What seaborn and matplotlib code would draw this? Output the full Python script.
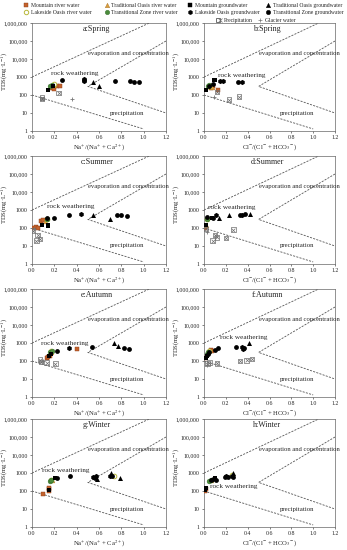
import numpy as np
import pandas as pd
import matplotlib
matplotlib.use("Agg")
import matplotlib.pyplot as plt
from matplotlib.lines import Line2D
from matplotlib.legend_handler import HandlerTuple
import seaborn as sns

# ---------------- data: panel -> list of (x, TDS) ----------------
panels = ["a", "b", "c", "d", "e", "f", "g", "h"]
titles = ["a:Spring", "b:Spring", "c:Summer", "d:Summer",
          "e:Autumn", "f:Autumn", "g:Winter", "h:Winter"]
x_labels = ["Na$^{+}$/(Na$^{+}$ + Ca$^{2+}$)",
            "Cl$^{-}$/(Cl$^{-}$ + HCO$_{3}$$^{-}$)"]
y_ticks = [1, 10, 100, 1000, 10000, 100000, 1000000]
y_tick_labels = ["1", "10", "100", "1000", "10,000", "100,000", "1,000,000"]
x_ticks = [0.0, 0.2, 0.4, 0.6, 0.8, 1.0, 1.2]

mountain_river = {
    "a": [(0.17, 250), (0.20, 220), (0.22, 300), (0.25, 330)],
    "b": [(0.06, 250), (0.08, 300), (0.13, 200)],
    "c": [(0.02, 100), (0.04, 110), (0.05, 100), (0.08, 250), (0.10, 280)],
    "d": [(0.01, 100), (0.01, 130)],
    "e": [(0.13, 150), (0.14, 170), (0.16, 200), (0.40, 450)],
    "f": [(0.01, 150), (0.06, 400), (0.07, 350)],
    "g": [(0.10, 65), (0.15, 100), (0.15, 130), (0.15, 150)],
    "h": [(0.01, 100), (0.02, 130)],
}
traditional_river = {
    "a": [(0.20, 350)], "b": [(0.07, 280)], "c": [(0.12, 260)], "d": [(0.02, 150)],
    "e": [(0.17, 330)], "f": [(0.05, 420)], "g": [(0.18, 420)], "h": [(0.06, 420)],
}
lakeside_river = {
    "a": [(0.20, 400)], "b": [(0.05, 330)], "c": [(0.13, 320)], "d": [(0.03, 330)],
    "e": [(0.17, 350)], "f": [(0.05, 380)], "g": [(0.17, 400), (0.73, 700)],
    "h": [(0.26, 800)],
}
transitional_river = {
    "a": [(0.16, 300), (0.18, 350)], "b": [(0.04, 300), (0.05, 350)],
    "c": [(0.13, 300)], "d": [(0.03, 300)],
    "e": [(0.16, 300), (0.18, 350)], "f": [(0.03, 250), (0.04, 300)],
    "g": [(0.16, 350), (0.17, 420)], "h": [(0.05, 350), (0.06, 400)],
}
mountain_gw = {
    "a": [(0.14, 200), (0.19, 300)], "b": [(0.02, 200), (0.09, 700), (0.10, 700)],
    "c": [(0.09, 150), (0.14, 150), (0.14, 130)], "d": [(0.02, 150), (0.07, 350)],
    "e": [(0.15, 200), (0.17, 250)], "f": [(0.02, 150), (0.03, 200)],
    "g": [(0.15, 120), (0.21, 500)], "h": [(0.01, 120), (0.02, 150), (0.10, 500)],
}
traditional_gw = {
    "a": [(0.55, 500), (0.60, 300)], "b": [],
    "c": [(0.55, 500), (0.70, 300)], "d": [(0.14, 350), (0.23, 500), (0.42, 600)],
    "e": [(0.73, 1000), (0.77, 700)], "f": [(0.41, 1000)],
    "g": [(0.58, 450), (0.71, 1000), (0.79, 550)], "h": [(0.27, 1000)],
}
lakeside_gw = {
    "a": [(0.47, 600), (0.47, 700), (0.47, 750)], "b": [(0.15, 600), (0.17, 600), (0.35, 550)],
    "c": [(0.44, 600)], "d": [(0.11, 500), (0.35, 550)],
    "e": [(0.33, 500)], "f": [(0.35, 600), (0.36, 450)],
    "g": [(0.55, 600), (0.57, 650), (0.70, 700)], "h": [(0.08, 450), (0.20, 650), (0.26, 700)],
}
transitional_gw = {
    "a": [(0.27, 700), (0.74, 600), (0.88, 600), (0.91, 550), (0.96, 500)],
    "b": [(0.05, 300), (0.08, 400), (0.31, 500)],
    "c": [(0.13, 350), (0.20, 380), (0.33, 500), (0.76, 550), (0.80, 530), (0.85, 480)],
    "d": [(0.03, 400), (0.08, 350), (0.33, 500), (0.38, 600)],
    "e": [(0.22, 380), (0.54, 600), (0.82, 500), (0.87, 480)],
    "f": [(0.04, 250), (0.05, 300), (0.10, 400), (0.13, 500), (0.29, 600), (0.37, 500)],
    "g": [(0.22, 550), (0.34, 700), (0.56, 500), (0.72, 650)],
    "h": [(0.06, 400), (0.11, 400), (0.19, 600), (0.22, 600), (0.27, 600)],
}
precipitation = {
    "a": [(0.09, 70), (0.09, 60), (0.24, 130)],
    "b": [(0.12, 150), (0.23, 55), (0.32, 80)],
    "c": [(0.01, 70), (0.04, 20), (0.05, 40), (0.07, 25)],
    "d": [(0.02, 90), (0.08, 20), (0.10, 40), (0.12, 30), (0.20, 28), (0.27, 80)],
    "e": [(0.07, 120), (0.08, 90), (0.13, 80), (0.21, 70)],
    "f": [(0.03, 70), (0.05, 80), (0.12, 75), (0.33, 100), (0.39, 110), (0.44, 130)],
    "g": [], "h": [],
}
glacier = {
    "a": [(0.36, 60)], "b": [(0.09, 80)], "c": [(0.02, 90)], "d": [(0.03, 60)],
    "e": [(0.10, 100)], "f": [(0.03, 60)], "g": [], "h": [],
}

# Gibbs boundary lines (x, TDS)
upper_line_x = [0.0, 1.05]
upper_line_y = [1000, 1000000]
evap_line_x = [1.2, 0.5, 1.2]
evap_line_y = [100000, 300, 10]
lower_line_x = [0.0, 1.0]
lower_line_y = [100, 1.3]

# label positions per panel: (rock weathering x, y)
rock_pos = {"a": (0.38, 1500), "b": (0.35, 1200), "c": (0.35, 1500), "d": (0.25, 1300),
            "e": (0.29, 1000), "f": (0.36, 2000), "g": (0.30, 1400), "h": (0.27, 170)}

# ---------------- styles ----------------
PRECIP = "#6e6e6e"
groups = [
    ("Mountain river water", mountain_river, [dict(marker="s", color="#c4622d", s=10, edgecolor="#8a3c16", linewidth=0.3)]),
    ("Traditional Oasis river water", traditional_river, [dict(marker="^", color="#d9a040", s=12, edgecolor="#a86e20", linewidth=0.3)]),
    ("Lakeside Oasis river water", lakeside_river, [dict(marker="o", facecolor="white", edgecolor="#b8b83a", s=11, linewidth=0.7)]),
    ("Transitional Zone river water", transitional_river, [dict(marker="o", color="#4b8b3b", s=12, edgecolor="#2f6a26", linewidth=0.3)]),
    ("Mountain groundwater", mountain_gw, [dict(marker="s", color="black", s=10, linewidth=0)]),
    ("Traditional Oasis groundwater", traditional_gw, [dict(marker="^", color="black", s=13, linewidth=0)]),
    ("Lakeside Oasis groundwater", lakeside_gw, [dict(marker="h", color="black", s=14, linewidth=0)]),
    ("Transitional Zone groundwater", transitional_gw, [dict(marker="o", color="black", s=12, linewidth=0)]),
    ("Precipitation", precipitation, [dict(marker="s", facecolor="none", edgecolor=PRECIP, s=11, linewidth=0.5),
                                      dict(marker="x", color=PRECIP, s=7, linewidth=0.5)]),
    ("Glacier water", glacier, [dict(marker="+", color="#777777", s=10, linewidth=0.6)]),
]

sns.set_theme(style="ticks")
plt.rcParams["font.family"] = ["Liberation Serif", "DejaVu Serif"]
plt.rcParams["mathtext.fontset"] = "stix"

fig = plt.figure(figsize=(3.47, 5.5), dpi=100)
W, H = 347.0, 550.0
row_bottoms = [131, 264, 397, 527]
col_lefts = [(32, 134), (204, 131)]
ph = 108

line_col = "#555555"
dash = (0, (2.5, 1.5))
for i, p in enumerate(panels):
    r, c = divmod(i, 2)
    left, width = col_lefts[c]
    ax = fig.add_axes([left / W, 1 - row_bottoms[r] / H, width / W, ph / H])
    ax.set_yscale("log")
    ax.set_xlim(0, 1.2)
    ax.set_ylim(1, 1000000)

    for name, data, kws in groups:
        pts = data.get(p, [])
        if not pts:
            continue
        df = pd.DataFrame(pts, columns=["x", "tds"])
        for kw in kws:
            sns.scatterplot(data=df, x="x", y="tds", ax=ax, legend=False, zorder=3, **kw)

    sns.lineplot(x=upper_line_x, y=upper_line_y, ax=ax, color=line_col, lw=0.6,
                 linestyle=dash, sort=False, estimator=None)
    ax.plot(evap_line_x, evap_line_y, color=line_col, lw=0.6, linestyle=dash)
    ax.plot(lower_line_x, lower_line_y, color=line_col, lw=0.6, linestyle=dash)

    ax.set_yticks(y_ticks)
    ax.set_yticklabels(y_tick_labels)
    ax.yaxis.set_minor_locator(matplotlib.ticker.NullLocator())
    ax.set_xticks(x_ticks)
    ax.set_xticklabels([f"{v:.1f}" for v in x_ticks])
    ax.tick_params(labelsize=4.2, length=1.5, width=0.4, pad=1.5, colors="#222222")
    for sp in ax.spines.values():
        sp.set_linewidth(0.5)
        sp.set_color("#666666")
    ax.set_xlabel(x_labels[c], fontsize=4.8, labelpad=1.5)
    ax.set_ylabel("TDS(mg·L$^{-1}$)", fontsize=4.8)
    ax.yaxis.set_label_coords(-0.165, 0.55)

    ax.text(0.58, 450000, titles[i], ha="center", va="center", fontsize=5.8)
    ax.text(0.5, 20000, "evaporation and concentration", ha="left", va="center", fontsize=4.8)
    rx, ry = rock_pos[p]
    ax.text(rx, ry, "rock weathering", ha="center", va="center", fontsize=5.2)
    ax.text(0.85, 10, "precipitation", ha="center", va="center", fontsize=4.9)

# ---------------- legends ----------------
def one_handle(kw):
    m = kw["marker"]
    fc = kw.get("facecolor", kw.get("color"))
    ec = kw.get("edgecolor", kw.get("color"))
    return Line2D([], [], linestyle="none", marker=m, markersize=3.2,
                  markerfacecolor=fc, markeredgecolor=ec,
                  markeredgewidth=0.7 if fc in ("white", "none") else (0.5 if m in ("+", "x") else 0.3))

def handle(kws):
    hs = [one_handle(k) for k in kws]
    return hs[0] if len(hs) == 1 else tuple(hs)

river = [groups[0], groups[2], groups[1], groups[3]]
gw = [groups[4], groups[6], groups[5], groups[7]]
others = groups[8:]

common = dict(frameon=False, fontsize=4.1, handlelength=1, handletextpad=0.3,
              labelspacing=0.4, borderpad=0.2, borderaxespad=0,
              handler_map={tuple: HandlerTuple(ndivide=None, pad=0)})
fig.legend([handle(g[2]) for g in river], [g[0] for g in river], ncol=2,
           loc="upper left", bbox_to_anchor=(22 / W, 1 - 2 / H), columnspacing=2.2, **common)
fig.legend([handle(g[2]) for g in gw], [g[0] for g in gw], ncol=2,
           loc="upper left", bbox_to_anchor=(186 / W, 1 - 2 / H), columnspacing=1.1, **common)
fig.legend([handle(g[2]) for g in others], [g[0] for g in others], ncol=2,
           loc="upper left", bbox_to_anchor=(215 / W, 1 - 16.5 / H), columnspacing=0.9, **common)

fig.savefig("out.png", dpi=100)
